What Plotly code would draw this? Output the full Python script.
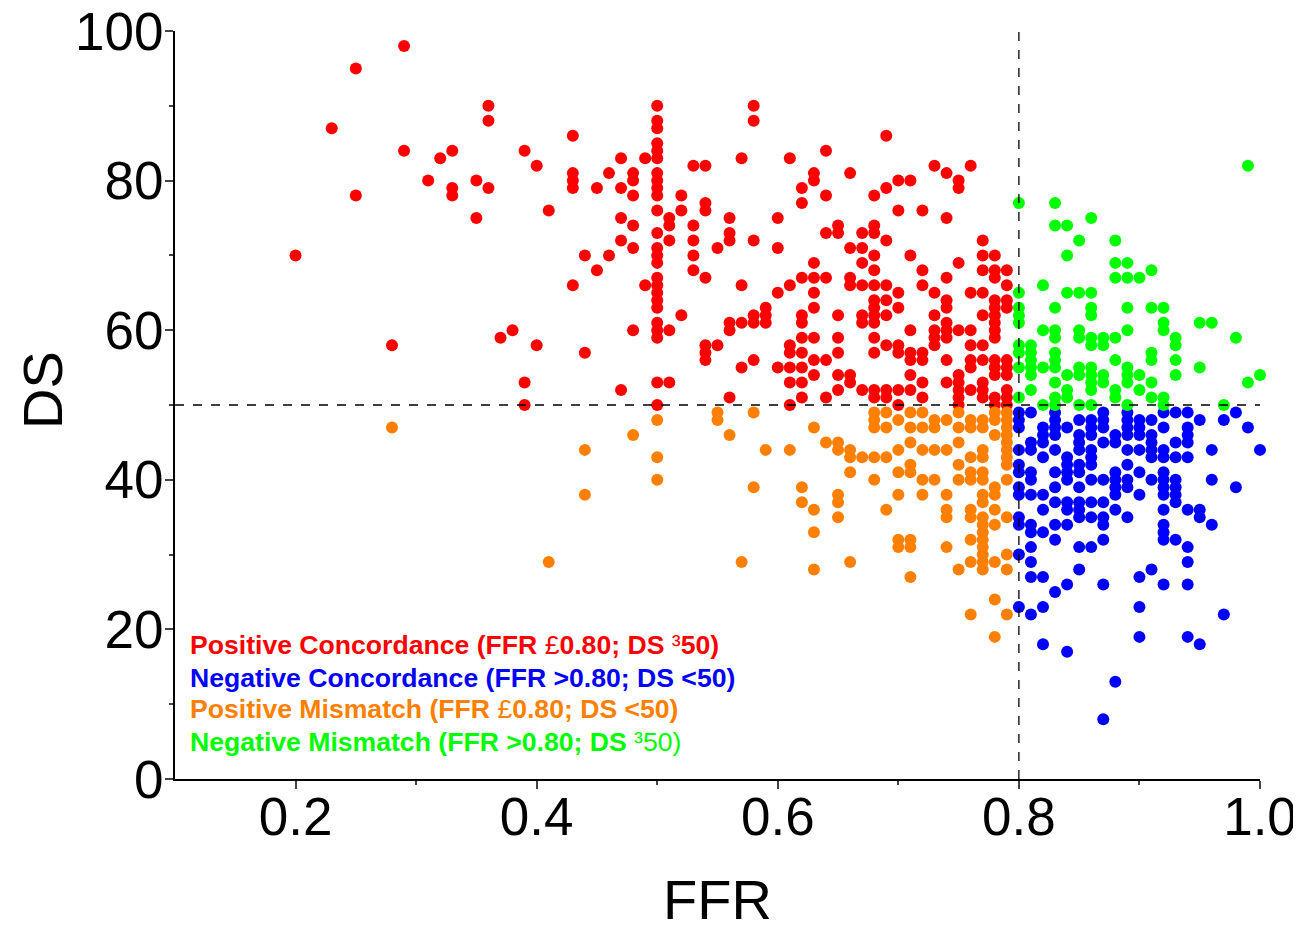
import plotly.graph_objects as go

# FFR value -> list of DS values, per group
positive_concordance = {
    0.20: [70], 0.23: [87], 0.25: [95, 78], 0.28: [58], 0.29: [98, 84],
    0.31: [80], 0.32: [83], 0.33: [84, 79, 78], 0.35: [80, 75], 0.36: [90, 88, 79],
    0.37: [59], 0.38: [60], 0.39: [84, 53, 50], 0.40: [82, 58], 0.41: [76],
    0.43: [86, 81, 80, 79, 66], 0.44: [70, 57], 0.45: [79, 68], 0.46: [81, 70],
    0.47: [83, 79, 75, 72, 52], 0.48: [81, 80, 78, 74, 71, 60], 0.49: [83, 66],
    0.50: [90, 88, 87, 85, 84, 83, 81, 80, 79, 78, 76, 73, 71, 70, 69, 67, 66, 65, 64, 63, 61, 60, 59, 53, 50],
    0.51: [75, 74, 72, 60, 53], 0.52: [78, 76, 62], 0.53: [82, 74, 72, 70, 68],
    0.54: [82, 77, 76, 67, 58, 57, 56], 0.55: [71, 58], 0.56: [75, 73, 72, 61, 60, 51],
    0.57: [83, 66, 61, 55], 0.58: [90, 88, 72, 62, 61, 56], 0.59: [63, 62, 61],
    0.60: [75, 71, 65, 55], 0.61: [83, 66, 58, 57, 55, 53, 50],
    0.62: [79, 77, 67, 62, 61, 59, 57, 55, 53, 51], 0.63: [81, 80, 69, 67, 65, 63, 59, 56, 54],
    0.64: [84, 78, 73, 67, 56, 51], 0.65: [74, 73, 62, 59, 57, 54, 52],
    0.66: [81, 71, 67, 66, 54, 53], 0.67: [73, 71, 69, 66, 62, 61, 52],
    0.68: [78, 74, 73, 70, 68, 66, 64, 63, 62, 61, 59, 57, 52, 51],
    0.69: [86, 79, 72, 66, 64, 62, 58, 52, 51], 0.70: [80, 76, 65, 63, 58, 57, 52, 50],
    0.71: [80, 70, 60, 57, 56, 54, 52], 0.72: [76, 68, 66, 57, 56, 53, 51],
    0.73: [82, 65, 62, 60, 59, 58], 0.74: [81, 75, 67, 64, 63, 61, 60, 59, 56, 53],
    0.75: [80, 79, 69, 60, 54, 53, 52, 51, 50], 0.76: [82, 65, 60, 58, 56, 55, 52],
    0.77: [72, 70, 68, 65, 62, 58, 56, 53, 52, 51],
    0.78: [70, 68, 67, 64, 63, 62, 61, 60, 59, 56, 55, 54, 51, 50],
    0.79: [68, 66, 64, 63, 56, 55, 54, 52, 51, 50],
}
positive_mismatch = {
    0.28: [47], 0.41: [29], 0.44: [44, 38], 0.48: [46], 0.50: [48, 43, 40],
    0.55: [49, 48], 0.56: [46], 0.57: [29], 0.58: [49, 39], 0.59: [44], 0.61: [44],
    0.62: [39, 37], 0.63: [47, 36, 33, 28], 0.64: [45], 0.65: [45, 44, 38, 37, 35],
    0.66: [44, 43, 41, 29], 0.67: [43], 0.68: [49, 48, 47, 43, 40], 0.69: [49, 47, 43, 36],
    0.70: [48, 44, 41, 38, 32, 31], 0.71: [49, 47, 45, 42, 41, 32, 31, 27],
    0.72: [49, 47, 44, 40, 38], 0.73: [48, 47, 44, 40], 0.74: [48, 44, 38, 36, 35, 31],
    0.75: [49, 47, 45, 42, 40, 28], 0.76: [48, 47, 43, 41, 40, 36, 35, 32, 29, 22],
    0.77: [48, 47, 44, 43, 41, 40, 38, 37, 35, 34, 33, 32, 31, 30, 29, 28],
    0.78: [49, 48, 46, 39, 38, 36, 34, 29, 24, 19],
    0.79: [49, 48, 47, 46, 45, 44, 43, 42, 40, 35, 30, 28, 22],
}
negative_concordance = {
    0.80: [49, 48, 47, 44, 42, 41, 39, 38, 35, 34, 30, 23],
    0.81: [49, 45, 44, 41, 40, 38, 34, 33, 31, 29, 27, 22],
    0.82: [47, 46, 45, 43, 38, 36, 33, 27, 23, 18],
    0.83: [49, 48, 47, 46, 44, 41, 39, 37, 34, 32, 25],
    0.84: [47, 43, 42, 41, 40, 37, 36, 34, 26, 17],
    0.85: [48, 46, 45, 44, 42, 41, 39, 37, 36, 35, 31, 28],
    0.86: [48, 47, 46, 44, 43, 42, 40, 37, 35, 31],
    0.87: [49, 48, 47, 45, 40, 37, 35, 34, 32, 26, 8],
    0.88: [46, 45, 41, 40, 39, 38, 36, 13],
    0.89: [49, 48, 47, 46, 44, 42, 40, 39, 35],
    0.90: [48, 47, 46, 44, 41, 38, 27, 23, 19],
    0.91: [48, 46, 45, 44, 43, 40, 28],
    0.92: [49, 47, 44, 43, 41, 40, 39, 38, 36, 34, 33, 32, 26],
    0.93: [49, 45, 43, 40, 39, 38, 37, 32],
    0.94: [49, 47, 46, 45, 43, 36, 31, 29, 26, 19],
    0.95: [48, 36, 35, 18], 0.96: [44, 40, 34], 0.97: [48, 22],
    0.98: [49, 39], 0.99: [47], 1.00: [44],
}
negative_mismatch = {
    0.80: [77, 65, 63, 62, 61, 58, 57, 55, 51], 0.81: [58, 57, 56, 55, 54, 52],
    0.82: [66, 60, 55, 50], 0.83: [77, 74, 63, 60, 59, 57, 56, 55, 53, 51, 50],
    0.84: [74, 70, 65, 54, 52, 51], 0.85: [72, 65, 60, 59, 55, 54, 50],
    0.86: [75, 65, 63, 62, 59, 58, 55, 54, 53, 52, 50], 0.87: [59, 58, 54, 53],
    0.88: [72, 69, 67, 59, 56, 52, 51], 0.89: [69, 67, 63, 60, 55, 54, 53, 50],
    0.90: [67, 54, 52], 0.91: [68, 63, 57, 56, 53, 51], 0.92: [63, 61, 60, 51, 50],
    0.93: [59, 58, 56, 54], 0.95: [61, 55], 0.96: [61], 0.97: [50], 0.98: [59],
    0.99: [82, 53], 1.00: [54],
}

x_ticks = [0.2, 0.4, 0.6, 0.8, 1.0]
x_tick_labels = ["0.2", "0.4", "0.6", "0.8", "1.0"]
y_ticks = [0, 20, 40, 60, 80, 100]

groups = [
    (positive_concordance, "#FF0000"),
    (negative_concordance, "#0000FF"),
    (positive_mismatch, "#FF8000"),
    (negative_mismatch, "#00FF00"),
]

FONT = "Liberation Sans, Arial, sans-serif"
fig = go.Figure()

for data, color in groups:
    xs, ys = [], []
    for fx, dss in data.items():
        for d in dss:
            xs.append(fx)
            ys.append(d)
    fig.add_trace(go.Scatter(x=xs, y=ys, mode="markers", cliponaxis=False,
                             marker=dict(color=color, size=12, line=dict(width=0)),
                             showlegend=False, hoverinfo="x+y"))

# threshold lines
fig.add_shape(type="line", xref="x", yref="y", x0=0.8, x1=0.8, y0=0, y1=100,
              line=dict(color="black", width=1.3, dash="dash"))
fig.add_shape(type="line", xref="x", yref="y", x0=0.1, x1=1.0, y0=50, y1=50,
              line=dict(color="black", width=1.3, dash="dash"))

legend_lines = [
    ("<b>Positive Concordance (FFR </b>£<b>0.80; DS </b>³<b>50)</b>", "#FF0000", 0.179),
    ("<b>Negative Concordance (FFR &gt;0.80; DS &lt;50)</b>", "#0000FF", 0.135),
    ("<b>Positive Mismatch (FFR </b>£<b>0.80; DS &lt;50)</b>", "#FF8000", 0.094),
    ("<b>Negative Mismatch (FFR &gt;0.80; DS </b>³50)", "#00FF00", 0.049),
]
for text, color, yp in legend_lines:
    fig.add_annotation(text=text, xref="paper", yref="paper", x=0.012, y=yp,
                       xanchor="left", yanchor="middle", showarrow=False,
                       font=dict(family=FONT, size=26.6, color=color))

# y-axis title as a rotated annotation for exact placement
fig.add_annotation(text="DS", xref="paper", yref="paper", x=-0.1226, y=0.52,
                   xanchor="center", yanchor="middle", textangle=-90, showarrow=False,
                   font=dict(family=FONT, size=56, color="black"))

fig.update_layout(
    width=1293, height=923,
    margin=dict(l=167, r=41, t=23, b=152),
    paper_bgcolor="white", plot_bgcolor="white",
    font=dict(family=FONT, color="black"),
    xaxis=dict(range=[0.1, 1.0], tickvals=x_ticks, ticktext=x_tick_labels,
               automargin=False, ticklabeloverflow="allow",
               showgrid=False, zeroline=False, showline=True, linecolor="black",
               linewidth=2, ticks="outside", ticklen=8, tickwidth=2,
               ticklabelstandoff=-18,
               tickfont=dict(size=53, family=FONT),
               minor=dict(tickvals=[0.3, 0.5, 0.7, 0.9], ticks="outside", ticklen=4, tickwidth=1.5),
               title=dict(text="FFR", font=dict(size=56, family=FONT), standoff=40)),
    yaxis=dict(range=[0, 100], tickvals=y_ticks,
               automargin=False, ticklabeloverflow="allow",
               showgrid=False, zeroline=False, showline=True, linecolor="black",
               linewidth=2, ticks="outside", ticklen=8, tickwidth=2,
               ticklabelstandoff=-9,
               tickfont=dict(size=53, family=FONT),
               minor=dict(tickvals=[10, 30, 50, 70, 90], ticks="outside", ticklen=4, tickwidth=1.5)),
)

fig.write_html("out.html")
